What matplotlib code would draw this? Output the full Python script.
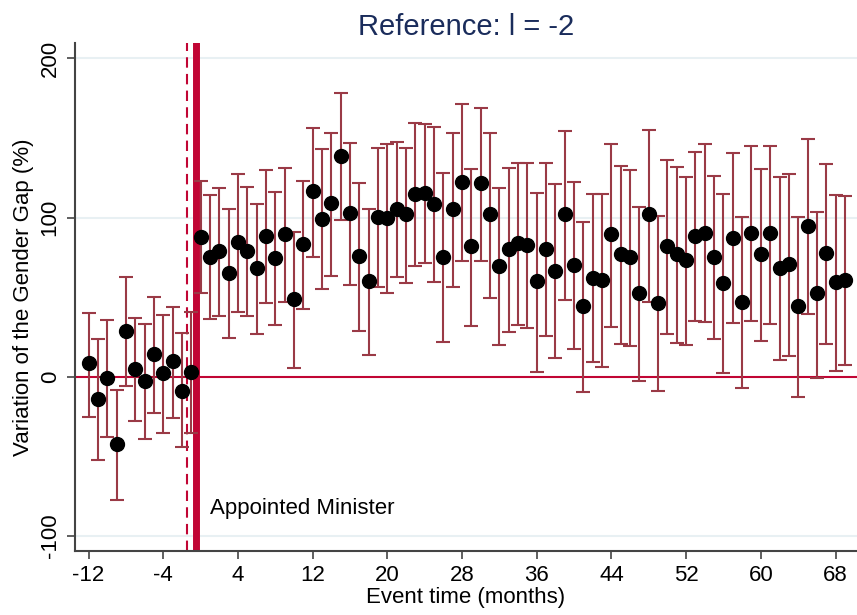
import matplotlib
matplotlib.use("Agg")
import matplotlib.pyplot as plt
import numpy as np

plt.rcParams["font.family"] = ["Liberation Sans", "DejaVu Sans"]
plt.rcParams["axes.unicode_minus"] = False

# event time in months, estimate and 95% CI bounds (in %)
months = np.arange(-12, 70)
estimate = [
    8.4, -14.0, -0.6, -42.5, 28.9, 4.8, -2.5, 14.0, 2.1, 10.0, -8.8, 2.7,
    88.0, 75.4, 79.0, 65.3, 84.4, 79.0, 68.3, 88.4, 74.8, 89.6, 48.8, 83.4,
    116.6, 99.2, 108.9, 138.8, 103.0, 76.0, 60.1, 100.5, 99.9, 105.3, 102.0, 114.8,
    115.6, 108.5, 75.4, 105.1, 122.1, 82.1, 121.5, 102.0, 69.5, 80.0, 84.2, 82.7,
    60.1, 80.0, 66.6, 102.0, 70.2, 44.6, 62.2, 60.7, 89.4, 76.9, 75.0, 52.4,
    102.0, 46.1, 82.1, 76.9, 73.3, 88.4, 90.5, 75.4, 58.7, 87.3, 46.7, 90.5,
    76.9, 90.1, 68.5, 70.6, 44.6, 94.8, 52.4, 77.5, 59.3, 60.7,
]
ci_upper = [
    40.2, 23.7, 35.6, -8.4, 62.4, 37.0, 33.0, 49.8, 38.7, 44.0, 27.2, 40.8,
    122.9, 113.9, 118.5, 105.1, 127.3, 119.3, 108.7, 129.8, 116.2, 131.1, 90.7, 122.9,
    156.0, 142.8, 153.3, 178.0, 146.6, 121.9, 105.3, 143.5, 146.4, 147.6, 143.5, 159.2,
    158.7, 156.7, 127.8, 153.3, 171.3, 130.7, 168.8, 153.3, 118.3, 130.9, 134.0, 134.4,
    115.2, 134.0, 120.8, 154.3, 122.5, 97.0, 114.6, 114.6, 146.2, 132.3, 129.8, 106.8,
    155.0, 100.9, 136.1, 131.9, 125.2, 141.3, 146.0, 126.1, 114.6, 140.3, 100.5, 144.9,
    130.3, 144.9, 125.2, 127.3, 100.5, 149.3, 103.6, 133.4, 114.1, 113.5,
]
ci_lower = [
    -25.1, -52.0, -37.7, -77.5, -5.6, -27.6, -39.3, -23.0, -35.6, -25.7, -44.4, -35.6,
    52.4, 36.0, 38.1, 24.5, 40.8, 38.1, 26.6, 46.5, 32.5, 47.1, 5.3, 42.5,
    75.4, 54.9, 63.3, 98.4, 57.6, 28.7, 13.6, 56.5, 52.8, 62.4, 59.0, 69.5,
    71.6, 59.7, 21.6, 56.5, 72.7, 32.0, 72.9, 49.2, 19.9, 28.3, 32.5, 30.4,
    3.1, 25.8, 11.9, 48.2, 17.2, -9.4, 9.4, 5.9, 31.4, 20.5, 19.5, -2.5,
    47.1, -9.0, 26.8, 21.0, 19.9, 35.0, 34.2, 23.7, 2.1, 33.5, -7.3, 35.0,
    22.4, 33.1, 10.5, 13.2, -12.9, 39.2, -0.6, 20.4, 3.8, 7.3,
]
xticks = np.arange(-12, 69, 8)
yticks = [-100, 0, 100, 200]

est = np.array(estimate)
err = np.vstack([est - np.array(ci_lower), np.array(ci_upper) - est])

fig = plt.figure(figsize=(8.57, 6.15), dpi=100)
ax = fig.add_axes([0.087, 0.104, 0.913, 0.826])

for y in [-100, 100, 200]:
    ax.axhline(y, color="#e8f0f3", lw=1.5, zorder=0)
ax.axhline(0, color="#c10534", lw=1.5, zorder=1)
ax.axvline(-1.5, color="#c10534", lw=1.5, ls=(0, (5, 3)), zorder=1)
ax.axvline(-0.5, color="#c10534", lw=5, zorder=1)

ax.errorbar(months, est, yerr=err, fmt="none", ecolor="#9a3a46",
            elinewidth=1.5, capsize=5, capthick=1.5, zorder=2)
ax.plot(months, est, "o", color="black", ms=10, zorder=3)

ax.text(1.0, -83, "Appointed Minister", fontsize=16, va="center", ha="left")

ax.set_xlim(-13.5, 70.3)
ax.set_ylim(-109.5, 209.6)
ax.set_xticks(xticks)
ax.set_yticks(yticks)
ax.set_yticklabels([str(v) for v in yticks], rotation=90, va="center")
ax.tick_params(axis="both", labelsize=16, length=6, width=1.2, color="#444444", pad=4)
ax.set_xlabel("Event time (months)", fontsize=16, labelpad=1)
ax.set_ylabel("Variation of the Gender Gap (%)", fontsize=16, labelpad=4)
ax.set_title("Reference: l = -2", fontsize=21, color="#1a2c5b", pad=6)

for side in ["top", "right"]:
    ax.spines[side].set_visible(False)
for side in ["left", "bottom"]:
    ax.spines[side].set_color("#444444")
    ax.spines[side].set_linewidth(1.5)

fig.savefig("out.png", dpi=100)
